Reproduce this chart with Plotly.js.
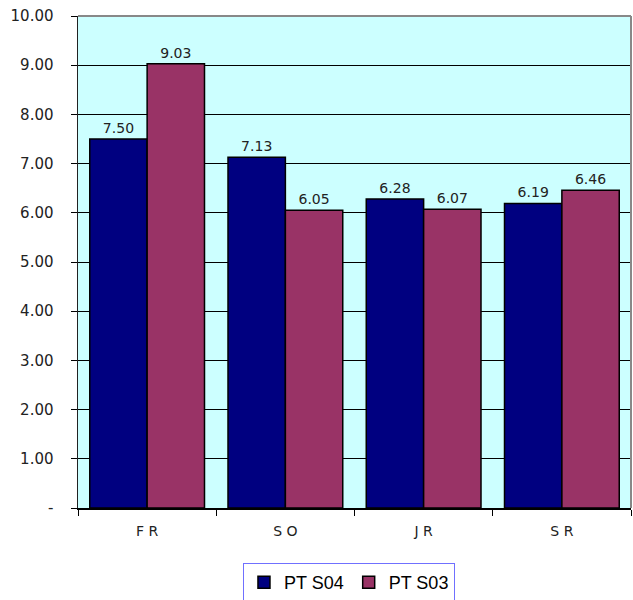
<!DOCTYPE html>
<html>
<head>
<meta charset="utf-8">
<script src="https://cdn.plot.ly/plotly-3.0.1.min.js"></script>
<style>html,body{margin:0;padding:0;background:#fff;}</style>
</head>
<body>
<div id="chart" style="width:633px;height:600px;"></div>
<script>
var categories = ["F R", "S O", "J R", "S R"];
var seriesNames = ["PT S04", "PT S03"];
var valuesS04 = [7.50, 7.13, 6.28, 6.19];
var valuesS03 = [9.03, 6.05, 6.07, 6.46];
var yTickVals = [0, 1, 2, 3, 4, 5, 6, 7, 8, 9, 10];
var yTickText = ["-", "1.00", "2.00", "3.00", "4.00", "5.00", "6.00", "7.00", "8.00", "9.00", "10.00"];

var labelFont = {family: "DejaVu Sans, sans-serif", size: 14, color: "#222"};

var traces = [
  {type: "bar", name: seriesNames[0], x: categories, y: valuesS04,
   marker: {color: "#000080", line: {color: "#000", width: 1.5}},
   text: valuesS04.map(function(v){return v.toFixed(2);}), textposition: "outside",
   textfont: labelFont, cliponaxis: false, hoverinfo: "skip"},
  {type: "bar", name: seriesNames[1], x: categories, y: valuesS03,
   marker: {color: "#993366", line: {color: "#000", width: 1.5}},
   text: valuesS03.map(function(v){return v.toFixed(2);}), textposition: "outside",
   textfont: labelFont, cliponaxis: false, hoverinfo: "skip"}
];

var layout = {
  width: 633, height: 600,
  margin: {l: 78, r: 2, t: 16, b: 92, autoexpand: false},
  paper_bgcolor: "#fff",
  plot_bgcolor: "#CCFFFF",
  barmode: "group",
  bargap: 0.17,
  bargroupgap: 0,
  showlegend: true,
  font: {family: "DejaVu Sans, sans-serif", color: "#222"},
  xaxis: {
    type: "category", automargin: false,
    showline: true, linecolor: "#000", linewidth: 1.5,
    ticks: "outside", tickson: "boundaries", ticklen: 6, tickcolor: "#000",
    ticklabelstandoff: 10,
    tickfont: {family: "DejaVu Sans, sans-serif", size: 14, color: "#222"},
    showgrid: false, zeroline: false
  },
  yaxis: {
    range: [0, 10], automargin: false,
    tickvals: yTickVals, ticktext: yTickText,
    showline: true, linecolor: "#222", linewidth: 1.5,
    ticks: "outside", ticklen: 6, tickcolor: "#000",
    ticklabelstandoff: 14,
    tickfont: {family: "DejaVu Sans, sans-serif", size: 15, color: "#222"},
    showgrid: true, gridcolor: "#000", gridwidth: 1,
    zeroline: false
  },
  legend: {
    orientation: "h",
    x: 0.49, xanchor: "center",
    y: -0.112, yanchor: "top",
    bordercolor: "#7070ff", borderwidth: 1,
    bgcolor: "#fff",
    font: {family: "Liberation Sans, Arial, sans-serif", size: 18, color: "#000"},
    itemwidth: 30
  },
  shapes: [
    {type: "line", xref: "paper", yref: "paper", x0: 0, x1: 1, y0: 1, y1: 1, line: {color: "#888", width: 2}},
    {type: "line", xref: "paper", yref: "paper", x0: 1, x1: 1, y0: 0, y1: 1, line: {color: "#888", width: 2}}
  ]
};

Plotly.newPlot("chart", traces, layout, {displayModeBar: false, staticPlot: true});
</script>
</body>
</html>
